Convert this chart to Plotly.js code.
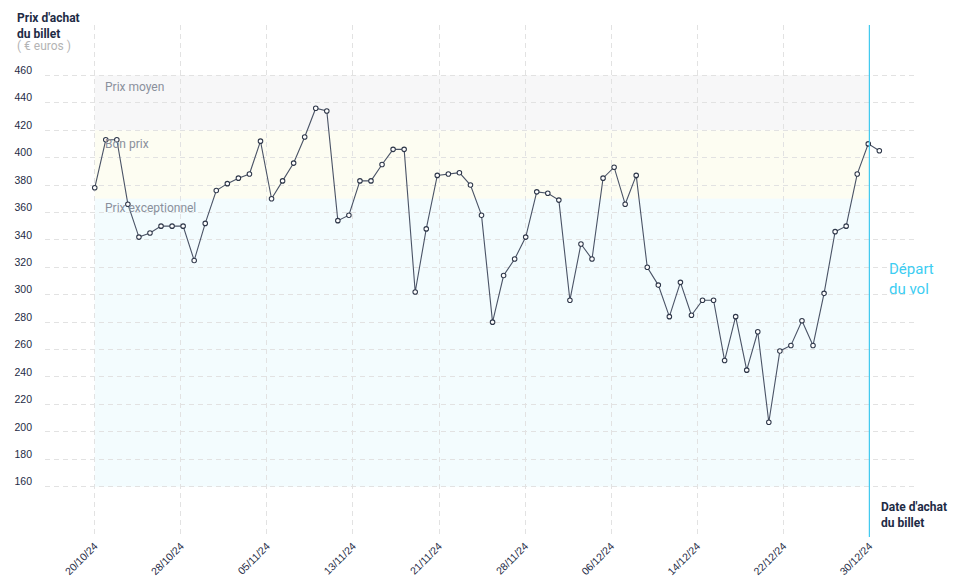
<!DOCTYPE html>
<html>
<head>
<meta charset="utf-8">
<script src="https://cdn.plot.ly/plotly-3.0.1.min.js"></script>
<style>html,body{margin:0;padding:0;background:#fff;}#chart{width:958px;height:585px;}</style>
</head>
<body>
<div id="chart"></div>
<script>
// Daily purchase price (index 0 = 20/10/24)
const prices = [378,413,413,366,342,345,350,350,350,325,352,376,381,385,388,412,370,383,396,415,436,434,354,358,383,383,395,406,406,302,348,387,388,389,380,358,280,314,326,342,375,374,369,296,337,326,385,393,366,387,320,307,284,309,285,296,296,252,284,245,273,207,259,263,281,263,301,346,350,388,410,405];
const dayIndex = prices.map((_, i) => i);
const tickLabels = ["20/10/24","28/10/24","05/11/24","13/11/24","21/11/24","28/11/24","06/12/24","14/12/24","22/12/24","30/12/24"];
const departIndex = 70.1; // position of 30/12/24 on the index axis
const tickStep = departIndex / (tickLabels.length - 1);
const tickVals = tickLabels.map((_, k) => k * tickStep);
const yTicks = [160,180,200,220,240,260,280,300,320,340,360,380,400,420,440,460];
const bands = [
  {name: "Prix moyen", y0: 420, y1: 460, color: "#f7f7f8", labelY: 451.5},
  {name: "Bon prix", y0: 370, y1: 420, color: "#fdfdf2", labelY: 410},
  {name: "Prix exceptionnel", y0: 160, y1: 370, color: "#f3fcfe", labelY: 363}
];

const textDark = "#1e2b45";
const gridColor = "#e2e2e2";

const shapes = bands.map(b => ({
  type: "rect", xref: "x", yref: "y", x0: 0, x1: departIndex, y0: b.y0, y1: b.y1,
  fillcolor: b.color, line: {width: 0}, layer: "below"
}));
shapes.push({type: "line", xref: "x", yref: "paper", x0: departIndex, x1: departIndex, y0: 0, y1: 1,
  line: {color: "#3fc9ef", width: 1.2}, layer: "above"});

const annotations = bands.map(b => ({
  xref: "x", yref: "y", x: 0.75, y: b.labelY, xanchor: "left", yanchor: "middle",
  text: b.name, showarrow: false, font: {family: "Roboto, Arial, sans-serif", size: 12, color: "#8a909c"}
}));
annotations.push(
  {xref: "paper", yref: "paper", x: -0.0344, y: 1.031, xanchor: "left", yanchor: "top", align: "left",
   text: "<b>Prix d'achat<br>du billet</b>", showarrow: false,
   font: {family: "Roboto, Arial, sans-serif", size: 12, color: textDark}},
  {xref: "paper", yref: "paper", x: -0.0344, y: (537 - 46) / 512, xanchor: "left", yanchor: "middle",
   text: "( € euros )", showarrow: false,
   font: {family: "Roboto, Arial, sans-serif", size: 12, color: "#b4b4b4"}},
  {xref: "paper", yref: "paper", x: (879 - 45) / 873, y: (537 - 498) / 512, xanchor: "left", yanchor: "top", align: "left",
   text: "<b>Date d'achat<br>du billet</b>", showarrow: false,
   font: {family: "Roboto, Arial, sans-serif", size: 12, color: textDark}},
  {xref: "paper", yref: "paper", x: (887 - 45) / 873, y: (537 - 258) / 512, xanchor: "left", yanchor: "top", align: "left",
   text: "Départ<br>du vol", showarrow: false,
   font: {family: "Roboto, Arial, sans-serif", size: 15, color: "#3ccdf2"}}
);

const trace = {
  x: dayIndex, y: prices, type: "scatter", mode: "lines+markers",
  line: {color: "#4a5366", width: 1.1},
  marker: {size: 4.5, color: "#ffffff", line: {color: "#2e3749", width: 1.1}},
  hoverinfo: "y"
};

const layout = {
  width: 958, height: 585,
  margin: {l: 45, r: 40, t: 25, b: 48},
  paper_bgcolor: "#ffffff", plot_bgcolor: "#ffffff",
  showlegend: false,
  xaxis: {
    range: [-4.5, 74.5], tickmode: "array", tickvals: tickVals, ticktext: tickLabels,
    tickangle: -45, showgrid: true, gridcolor: gridColor, griddash: "5px,4px", gridwidth: 1,
    zeroline: false, showline: false, ticks: "",
    tickfont: {family: "Liberation Sans, Arial, sans-serif", size: 10.5, color: textDark}
  },
  yaxis: {
    range: [123.3, 496.7], tickmode: "array", tickvals: yTicks, ticktext: yTicks.map(String),
    showgrid: true, gridcolor: gridColor, griddash: "5px,4px", gridwidth: 1,
    zeroline: false, showline: false, ticks: "",
    ticklabelshift: -5, ticklabelstandoff: 12,
    tickfont: {family: "Liberation Sans, Arial, sans-serif", size: 10.5, color: textDark}
  },
  shapes: shapes,
  annotations: annotations
};

Plotly.newPlot("chart", [trace], layout, {displayModeBar: false, staticPlot: true});
</script>
</body>
</html>
